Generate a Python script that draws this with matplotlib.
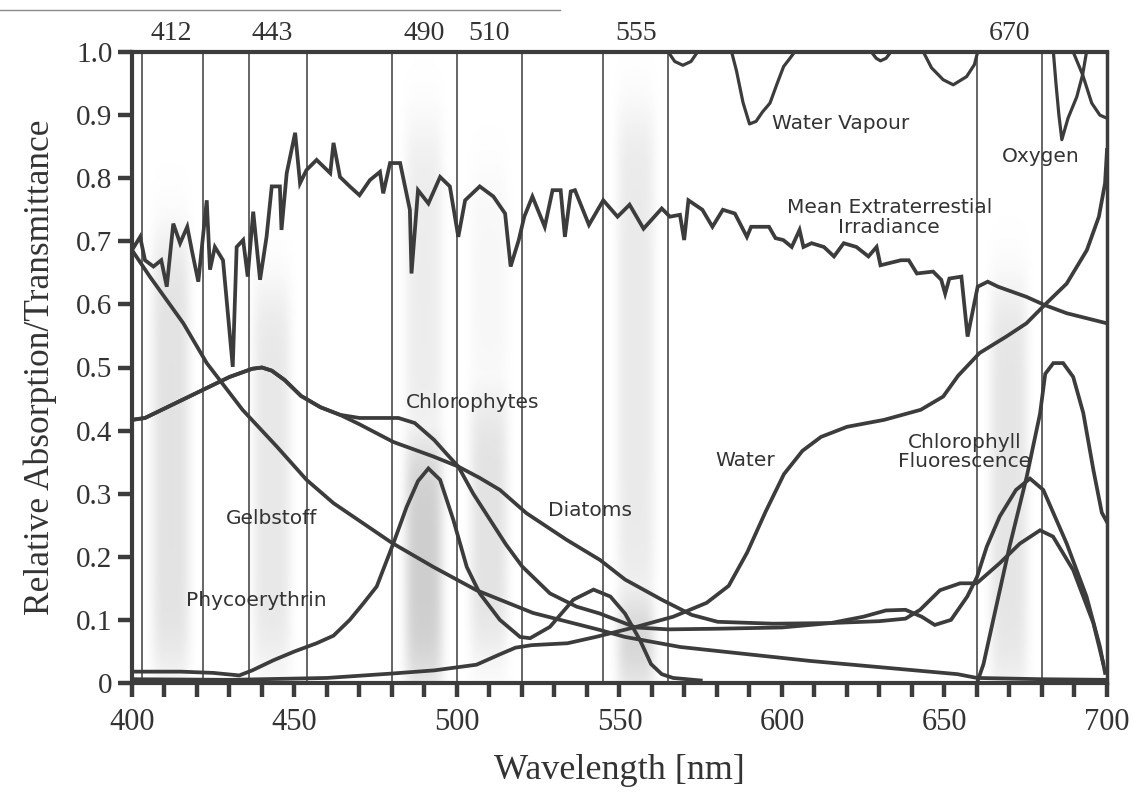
import numpy as np
import matplotlib
matplotlib.use("Agg")
import matplotlib.pyplot as plt
from matplotlib.lines import Line2D

# ---------------- data (wavelength nm, relative value) ----------------
wl_irr = [400, 402.5, 404, 406.6, 409, 410.7, 412.7, 414.8, 417, 418.4, 420.4, 423, 424,
          425.5, 428, 431, 432.2, 434.2, 435.6, 437.3, 439.4, 441.4, 443, 445.5, 446,
          447.6, 450.2, 451.7, 453.7, 456.8, 461, 462, 464, 467, 470, 473.2, 476.3,
          477.3, 479.4, 482.5, 485.5, 486, 488, 491.2, 494.8, 497.8, 500.4, 502.5, 507,
          511.2, 514.8, 516.5, 519, 520.7, 523.2, 527, 529.4, 531.9, 533.2, 535, 536.3,
          540.6, 545, 549.4, 553.1, 557.4, 563, 565.5, 568.6, 569.9, 571.2, 575.5,
          578.6, 581.8, 585.5, 589.2, 590.5, 596, 598, 600.4, 603, 605.4, 606.6, 609.1,
          612.9, 616, 619, 622.9, 626.6, 629.1, 630.3, 636.6, 639, 641.5, 646.5, 649,
          650.2, 651.5, 655.2, 657.1, 660.2, 663.3, 666.5, 675.2, 680.8, 687.6, 700]
irr = [0.686, 0.707, 0.670, 0.660, 0.670, 0.628, 0.728, 0.697, 0.723, 0.686, 0.636, 0.765,
       0.655, 0.691, 0.670, 0.501, 0.691, 0.702, 0.644, 0.747, 0.639, 0.707, 0.787, 0.787,
       0.718, 0.808, 0.872, 0.792, 0.813, 0.829, 0.808, 0.856, 0.802, 0.787, 0.773, 0.797,
       0.810, 0.776, 0.824, 0.824, 0.750, 0.649, 0.781, 0.760, 0.802, 0.787, 0.707, 0.765,
       0.787, 0.771, 0.744, 0.660, 0.702, 0.739, 0.771, 0.723, 0.781, 0.781, 0.707, 0.779,
       0.781, 0.726, 0.765, 0.739, 0.758, 0.720, 0.752, 0.739, 0.742, 0.702, 0.765, 0.750,
       0.723, 0.750, 0.744, 0.707, 0.723, 0.723, 0.705, 0.702, 0.691, 0.718, 0.691, 0.697,
       0.691, 0.676, 0.697, 0.691, 0.676, 0.691, 0.662, 0.670, 0.670, 0.649, 0.652, 0.639,
       0.617, 0.641, 0.644, 0.549, 0.628, 0.636, 0.628, 0.612, 0.599, 0.586, 0.570]

wl_gelb = [400, 405.5, 415.8, 423, 434, 444.5, 453.7, 462, 480, 492.7, 506, 523.4, 544,
           551.7, 568.8, 608.6, 654, 660, 680, 700]
gelb = [0.686, 0.644, 0.570, 0.507, 0.433, 0.375, 0.322, 0.285, 0.222, 0.184, 0.147, 0.111,
        0.084, 0.073, 0.057, 0.035, 0.014, 0.008, 0.006, 0.005]

wl_chloro = [400, 404, 410, 420, 430, 437, 440, 443, 447, 452, 458, 464, 470, 476, 482,
             487, 493, 497, 500.4, 505, 510, 515, 520, 528.6, 536.8, 544, 555, 565, 580,
             600, 615, 625, 632, 638, 643, 647, 652, 657, 660, 663, 667, 672, 676.3, 680.4,
             687.6, 693.7, 697.8, 699.4]
chloro = [0.417, 0.420, 0.435, 0.460, 0.485, 0.498, 0.500, 0.495, 0.480, 0.455, 0.437,
          0.425, 0.420, 0.420, 0.420, 0.412, 0.385, 0.362, 0.343, 0.300, 0.260, 0.220,
          0.185, 0.142, 0.121, 0.110, 0.088, 0.085, 0.086, 0.088, 0.095, 0.105, 0.115,
          0.116, 0.105, 0.092, 0.100, 0.137, 0.168, 0.216, 0.264, 0.306, 0.324, 0.306,
          0.221, 0.137, 0.058, 0.016]

wl_diat = [400, 404, 410, 420, 430, 437, 440, 443, 447, 452, 458, 464, 470, 480.4, 492.7,
           500.4, 507, 513.2, 521.4, 533.7, 544, 551.7, 563, 572.2, 580.2, 597.2, 615, 630,
           638, 642.5, 648.6, 654.8, 659.9, 667, 673.2, 679.4, 683.4, 689.6, 695.8, 698.8]
diat = [0.417, 0.420, 0.435, 0.460, 0.485, 0.498, 0.500, 0.495, 0.480, 0.455, 0.437, 0.425,
        0.410, 0.382, 0.359, 0.343, 0.325, 0.306, 0.269, 0.227, 0.195, 0.164, 0.132, 0.108,
        0.097, 0.094, 0.095, 0.098, 0.102, 0.116, 0.147, 0.158, 0.158, 0.190, 0.221, 0.242,
        0.232, 0.179, 0.095, 0.032]

wl_phyco = [400, 415, 425, 433, 437, 443.5, 450, 456.8, 462, 467, 471, 475.3, 480.4, 484.5,
            488, 491.2, 494.8, 498.9, 503, 507, 513.2, 519.4, 522.5, 528.6, 535.8, 542,
            547.2, 551.7, 556.3, 559.7, 563, 566.5, 575]
phyco = [0.018, 0.018, 0.016, 0.012, 0.020, 0.036, 0.050, 0.063, 0.075, 0.100, 0.125, 0.153,
         0.221, 0.279, 0.320, 0.340, 0.322, 0.258, 0.184, 0.142, 0.100, 0.073, 0.071, 0.089,
         0.132, 0.148, 0.137, 0.110, 0.068, 0.030, 0.014, 0.008, 0.004]

wl_water = [400, 430, 460, 480, 493, 506, 513, 518, 523, 534, 542.7, 555.2, 566.5, 576.8,
            583.6, 589.3, 595, 600.6, 606.3, 612, 620, 631.4, 642.7, 649.6, 654.2, 660.8,
            669, 675.2, 680.8, 687.6, 693.8, 697.5, 699.4, 700]
water = [0.006, 0.005, 0.008, 0.015, 0.020, 0.029, 0.045, 0.056, 0.060, 0.063, 0.073, 0.089,
         0.105, 0.127, 0.154, 0.207, 0.272, 0.331, 0.368, 0.390, 0.406, 0.417, 0.433, 0.454,
         0.487, 0.523, 0.549, 0.570, 0.599, 0.633, 0.686, 0.739, 0.792, 0.845]

wl_fluor = [660, 662, 665, 670, 675.3, 679.4, 681, 683.5, 686.5, 689.6, 692.7, 695.8,
            698.4, 700]
fluor = [0.000, 0.030, 0.100, 0.216, 0.327, 0.427, 0.490, 0.507, 0.507, 0.485, 0.428, 0.338,
         0.270, 0.255]

wl_vapour = [560, 565, 567, 569.5, 572, 574, 584.5, 586, 588, 590, 592, 594, 596.3, 598.5,
             600.5, 602, 603.6, 604, 627.5, 629, 630.3, 632, 633.5, 643.5, 646, 649.6, 652.7,
             656.8, 659.2, 660.2, 689.6, 692.5, 695.3, 697.8, 700]
vapour = [1.0, 1.0, 0.985, 0.979, 0.985, 1.0, 1.0, 0.97, 0.92, 0.886, 0.89, 0.905, 0.919,
          0.95, 0.977, 0.987, 0.998, 1.0, 1.0, 0.99, 0.986, 0.99, 1.0, 1.0, 0.975, 0.956,
          0.948, 0.961, 0.98, 1.0, 1.0, 0.964, 0.919, 0.90, 0.895]

wl_oxy = [683.5, 684.3, 685.2, 686.1, 688, 690.7, 692.5, 693.7]
oxy = [1.0, 0.95, 0.90, 0.861, 0.895, 0.929, 0.964, 1.0]

band_centers = [412, 443, 490, 510, 555, 670]
band_edges = [403, 422, 436, 454, 480, 500, 520, 545, 565, 660, 680]
band_labels = ["412", "443", "490", "510", "555", "670"]

x_ticks = list(range(400, 701, 10))
y_ticks = [0, 0.1, 0.2, 0.3, 0.4, 0.5, 0.6, 0.7, 0.8, 0.9, 1.0]
y_labels = ["0", "0.1", "0.2", "0.3", "0.4", "0.5", "0.6", "0.7", "0.8", "0.9", "1.0"]

labels = [
    ("Water Vapour", 618, 0.886),
    ("Oxygen", 679.7, 0.834),
    ("Mean Extraterrestial\nIrradiance", 633, 0.738),
    ("Chlorophytes", 504.8, 0.445),
    ("Diatoms", 541, 0.274),
    ("Gelbstoff", 443, 0.261),
    ("Phycoerythrin", 438.4, 0.130),
    ("Water", 588.6, 0.353),
    ("Chlorophyll\nFluorescence", 656.3, 0.366),
]

# ---------------- figure ----------------
INK = "#3c3c3c"
SERIF = ["Liberation Serif", "DejaVu Serif"]
SANS = ["DejaVu Sans"]

fig = plt.figure(figsize=(11.33, 7.94), dpi=100)
ax = fig.add_axes([132 / 1133, 1 - 683 / 794, (1107 - 132) / 1133, (683 - 52) / 794])

# stippled band shading (smooth grey clouds)
shade_profiles = {
    412: [(0.02, 0.70, 0.55)],
    443: [(0.03, 0.62, 0.45)],
    490: [(0.0, 0.38, 0.95), (0.38, 0.88, 0.35)],
    510: [(0.05, 0.45, 0.55), (0.45, 0.80, 0.15)],
    555: [(0.0, 0.13, 0.95), (0.13, 0.90, 0.40)],
    670: [(0.0, 0.62, 0.50)],
}
for c in band_centers:
    lo, hi = c - 8, c + 8
    ny, nx = 300, 40
    ys = np.linspace(0, 1, ny)
    xs = np.linspace(-1, 1, nx)
    prof = np.zeros(ny)
    for y0, y1, a in shade_profiles[c]:
        w = 0.03
        win = 1 / (1 + np.exp(-(ys - y0) / w)) * 1 / (1 + np.exp((ys - y1) / w))
        prof = np.maximum(prof, a * win)
    pxp = np.exp(-(xs / 0.75) ** 4)
    alpha = np.outer(prof, pxp)
    rgba = np.zeros((ny, nx, 4))
    rgba[..., :3] = 0.55
    rgba[..., 3] = alpha * 0.45
    ax.imshow(rgba, extent=(lo, hi, 0, 1), origin="lower", aspect="auto",
              interpolation="bilinear", zorder=0.5)

for e in band_edges:
    ax.axvline(e, color=INK, lw=1.1, zorder=1)

lw = 2.7
for xs_, ys_ in [(wl_gelb, gelb), (wl_chloro, chloro), (wl_diat, diat), (wl_phyco, phyco),
                 (wl_water, water), (wl_fluor, fluor), (wl_irr, irr)]:
    ax.plot(xs_, ys_, color=INK, lw=lw, solid_joinstyle="miter", zorder=3)
ax.plot(wl_vapour, vapour, color=INK, lw=2.3, zorder=3)
ax.plot(wl_oxy, oxy, color=INK, lw=2.3, zorder=3)

for text, x, y in labels:
    ax.text(x, y, text, ha="center", va="center", fontsize=14.5, family=SANS,
            color="#333333", linespacing=1.05, zorder=4)

for c, t in zip(band_centers, band_labels):
    ax.text(c, 1.029, t, ha="center", va="center", fontsize=20, family=SERIF,
            color="#333333", clip_on=False)

ax.set_xlim(400, 700)
ax.set_ylim(0, 1)
ax.set_xticks(x_ticks)
ax.set_xticklabels([str(t) if t % 50 == 0 else "" for t in x_ticks])
ax.set_yticks(y_ticks)
ax.set_yticklabels(y_labels)
ax.tick_params(axis="x", direction="out", length=10, width=3.2, color=INK, pad=8,
               labelsize=22, labelcolor="#333333")
ax.tick_params(axis="y", direction="out", length=10, width=3.2, color=INK, pad=4,
               labelsize=21, labelcolor="#333333")
for lab in ax.get_xticklabels() + ax.get_yticklabels():
    lab.set_family(SERIF)
for s in ax.spines.values():
    s.set_color(INK)
    s.set_linewidth(3.0)
ax.spines["right"].set_linewidth(2.5)

ax.set_xlabel("Wavelength [nm]", fontsize=26, family=SERIF, color="#333333", labelpad=12)
ax.set_ylabel("Relative Absorption/Transmittance", fontsize=25.5, family=SERIF,
              color="#333333", labelpad=14)

# faint scan rule at top-left
fig.add_artist(Line2D([0, 560 / 1133], [1 - 10 / 794, 1 - 10 / 794], color="#8a8a8a", lw=1.0))

fig.savefig("out.png", dpi=100)
